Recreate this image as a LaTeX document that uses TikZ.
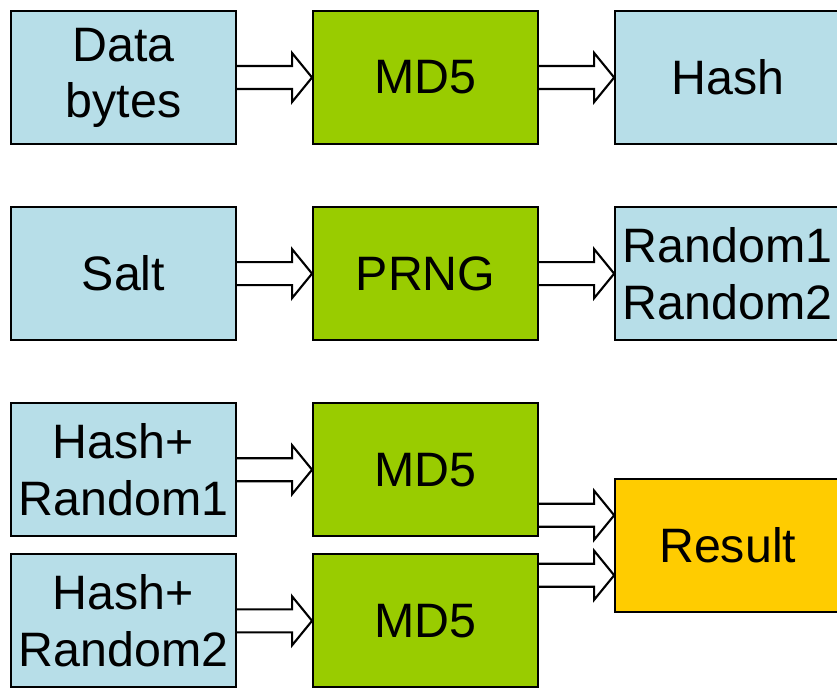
\documentclass[tikz,border=0pt]{standalone}
\usepackage{fontspec}
\setmainfont{Liberation Sans}
\usepackage{tikz}
\usetikzlibrary{positioning,calc}
\definecolor{HashBlue}{HTML}{B7DEE8}
\definecolor{HashGreen}{HTML}{99CC00}
\definecolor{HashGold}{HTML}{FFCC00}
\newcommand{\blockarrow}[2]{%
  \draw[blockarr] let \p1=(#1), \p2=(#2) in
    (\x1,\y2+0.23cm) -- (\x2-0.4cm,\y2+0.23cm) -- (\x2-0.4cm,\y2+0.49cm)
    -- (\x2,\y2) -- (\x2-0.4cm,\y2-0.49cm) -- (\x2-0.4cm,\y2-0.23cm)
    -- (\x1,\y2-0.23cm);}

\begin{document}
\begin{tikzpicture}[
    stepbox/.style={draw=black,line width=1.2pt,minimum width=4.5cm,
      minimum height=2.66cm,inner sep=0pt,align=center,
      font=\fontsize{27.5}{32}\selectfont},
    databox/.style={stepbox,fill=HashBlue},
    algobox/.style={stepbox,fill=HashGreen},
    resbox/.style={stepbox,fill=HashGold},
    blockarr/.style={draw=black,line width=1.2pt,fill=white}]
  \useasboundingbox (0,0) rectangle (16.74cm,-13.76cm);
  % first row
  \node[databox] (data) at (2.47cm,-1.55cm) {Data\\bytes};
  \node[algobox,right=1.5cm of data] (md5a) {MD5};
  \node[databox,right=1.5cm of md5a] (hash) {Hash};
  % second row
  \node[databox,below=1.22cm of data] (salt) {Salt};
  \node[algobox,right=1.5cm of salt] (prng) {PRNG};
  \node[databox,right=1.5cm of prng] (rand) {Random1\\Random2};
  % third row
  \node[databox,below=1.22cm of salt] (hrone) {Hash+\\Random1};
  \node[algobox,right=1.5cm of hrone] (md5b) {MD5};
  \node[databox,below=0.32cm of hrone] (hrtwo) {Hash+\\Random2};
  \node[algobox,right=1.5cm of hrtwo] (md5c) {MD5};
  \path (md5b.east) -- (md5c.east) coordinate[midway] (mid);
  \node[resbox,right=1.5cm of mid] (result) {Result};
  \coordinate (resin) at ($(result.west)+(0,0.6cm)$);
  \coordinate (resintwo) at ($(result.west)+(0,-0.6cm)$);

  \blockarrow{data.east}{md5a.west}
  \blockarrow{md5a.east}{hash.west}
  \blockarrow{salt.east}{prng.west}
  \blockarrow{prng.east}{rand.west}
  \blockarrow{hrone.east}{md5b.west}
  \blockarrow{hrtwo.east}{md5c.west}
  \blockarrow{md5b.east}{resin}
  \blockarrow{md5c.east}{resintwo}
\end{tikzpicture}
\end{document}
